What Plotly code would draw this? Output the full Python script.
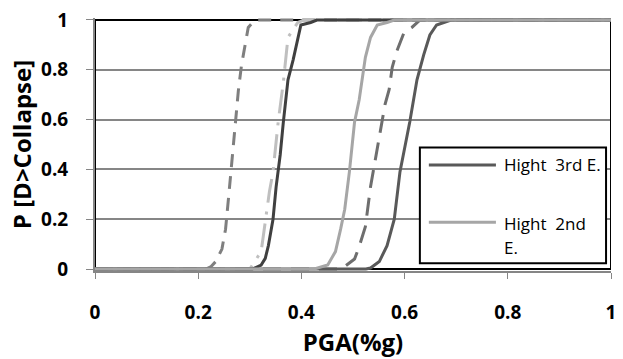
import plotly.graph_objects as go

# --- data (PGA in g, probability of collapse) ---
a_x = [0, 0.215, 0.225, 0.234, 0.246, 0.253, 0.259, 0.265, 0.273, 0.278, 0.284, 0.292, 0.297, 0.31, 1]
a_y = [0, 0, 0.01, 0.03, 0.08, 0.16, 0.29, 0.43, 0.6, 0.72, 0.82, 0.92, 0.97, 1, 1]

b_x = [0, 0.3, 0.322, 0.332, 0.338, 0.345, 0.355, 0.365, 0.369, 0.374, 0.393, 0.405, 1]
b_y = [0, 0, 0.07, 0.23, 0.31, 0.39, 0.59, 0.75, 0.84, 0.93, 0.99, 1, 1]

c_x = [0, 0.305, 0.322, 0.330, 0.336, 0.345, 0.351, 0.359, 0.365, 0.369, 0.374, 0.384, 0.393, 0.399, 0.418, 0.43, 1]
c_y = [0, 0, 0.016, 0.043, 0.094, 0.2, 0.33, 0.46, 0.59, 0.67, 0.76, 0.84, 0.93, 0.98, 0.99, 1, 1]

d_x = [0, 0.425, 0.451, 0.466, 0.476, 0.484, 0.493, 0.503, 0.512, 0.518, 0.524, 0.534, 0.547, 0.566, 0.58, 1]
d_y = [0, 0, 0.016, 0.07, 0.16, 0.24, 0.39, 0.59, 0.68, 0.76, 0.85, 0.93, 0.98, 0.99, 1, 1]

e_x = [0, 0.475, 0.484, 0.503, 0.512, 0.524, 0.534, 0.547, 0.553, 0.562, 0.570, 0.576, 0.585, 0.599, 0.614, 0.63, 1]
e_y = [0, 0, 0.01, 0.04, 0.09, 0.17, 0.33, 0.48, 0.56, 0.66, 0.72, 0.81, 0.875, 0.95, 0.97, 1, 1]

f_x = [0, 0.525, 0.534, 0.551, 0.566, 0.580, 0.591, 0.610, 0.624, 0.637, 0.649, 0.662, 0.676, 0.69, 1]
f_y = [0, 0, 0.004, 0.03, 0.094, 0.2, 0.39, 0.59, 0.76, 0.86, 0.94, 0.98, 0.99, 1, 1]

tick_vals = [0, 0.2, 0.4, 0.6, 0.8, 1]
tick_text = ["0", "0.2", "0.4", "0.6", "0.8", "1"]
legend_names = ["Hight\u00a0 3rd E.", "Hight\u00a0 2nd", "E."]

FONT = "Open Sans"

series = [
    (a_x, a_y, "#7f7f7f", "13px,9px"),
    (b_x, b_y, "#bfbfbf", "24px,9px,3px,9px"),
    (c_x, c_y, "#404040", "solid"),
    (e_x, e_y, "#6e6e6e", "18px,10px"),
    (f_x, f_y, "#595959", "solid"),
    (d_x, d_y, "#a6a6a6", "solid"),
]

fig = go.Figure()
for xs, ys, col, dash in series:
    fig.add_trace(go.Scatter(x=xs, y=ys, mode="lines",
                             line=dict(color=col, width=3, dash=dash),
                             showlegend=False, hoverinfo="skip"))

axis_font = dict(family=FONT, size=19, color="black", weight="bold")
title_font = dict(family=FONT, size=24, color="black", weight="bold")

fig.update_layout(
    width=623, height=359,
    margin=dict(l=95, r=7, t=15, b=88),
    paper_bgcolor="white", plot_bgcolor="white",
    showlegend=False,
    xaxis=dict(range=[0, 1], tickvals=tick_vals, ticktext=tick_text,
               showgrid=False, zeroline=False,
               showline=True, linecolor="#868686", linewidth=2,
               ticks="outside", ticklen=6, tickcolor="#868686", tickwidth=1,
               tickfont=axis_font, ticklabelstandoff=17,
               title=dict(text="PGA(%g)", font=title_font, standoff=4)),
    yaxis=dict(range=[-0.008, 1.008], tickvals=tick_vals, ticktext=tick_text,
               showgrid=True, gridcolor="#868686", gridwidth=2, zeroline=False,
               showline=True, linecolor="#868686", linewidth=2,
               ticks="outside", ticklen=7, tickcolor="#868686", tickwidth=1,
               tickfont=axis_font, ticklabelstandoff=14,
               title=dict(text="P [D>Collapse]", font=title_font, standoff=3)),
)

# plot-area border (black, visible at top and right)
fig.add_shape(type="rect", xref="x", yref="y", x0=0, x1=1, y0=0, y1=1,
              line=dict(color="black", width=2), layer="between")

# manual legend box
fig.add_shape(type="rect", xref="x", yref="y", x0=0.6296, x1=0.9904, y0=0.0234, y1=0.488,
              line=dict(color="black", width=2), fillcolor="white", layer="above")
fig.add_shape(type="line", xref="x", yref="y", x0=0.647, x1=0.777, y0=0.418, y1=0.418,
              line=dict(color="#595959", width=3), layer="above")
fig.add_shape(type="line", xref="x", yref="y", x0=0.647, x1=0.777, y0=0.1875, y1=0.1875,
              line=dict(color="#a6a6a6", width=3), layer="above")
leg_font = dict(family=FONT, size=17, color="black")
for txt, yy in zip(legend_names, [0.418, 0.184, 0.088]):
    fig.add_annotation(x=0.788, y=yy, xref="x", yref="y", text=txt, showarrow=False,
                       xanchor="left", yanchor="middle", font=leg_font)

fig.write_html("out.html")
